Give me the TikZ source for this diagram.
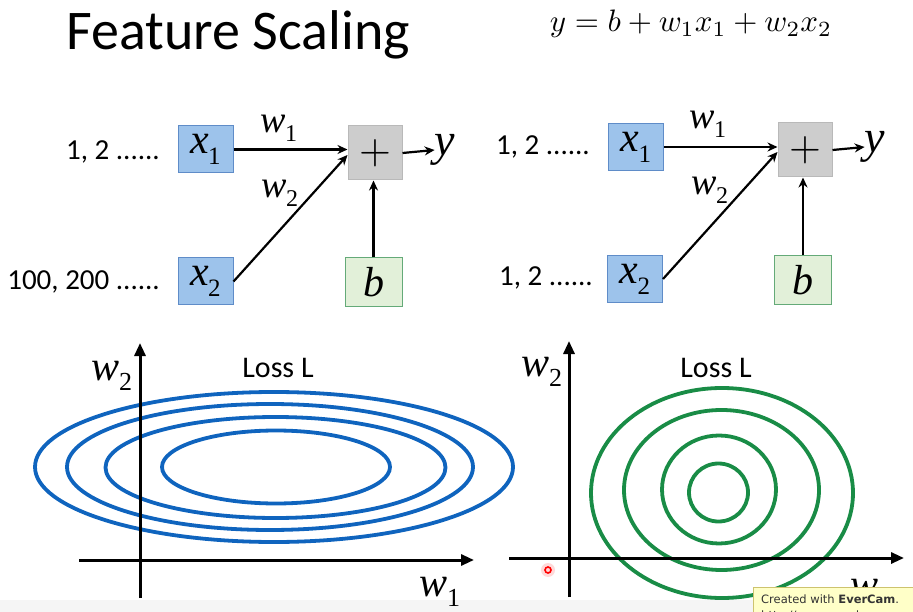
\documentclass[tikz,border=0pt]{standalone}
\usepackage{fontspec}
\usepackage{graphicx}
\setmainfont{Carlito}
\newfontfamily\tms{Liberation Serif}
\newfontfamily\dvs{DejaVu Sans}
\usetikzlibrary{arrows.meta}
\definecolor{boxblue}{RGB}{157,195,235}
\definecolor{boxblueline}{RGB}{95,140,200}
\definecolor{boxgray}{RGB}{205,205,205}
\definecolor{boxgrayline}{RGB}{185,185,185}
\definecolor{boxgreen}{RGB}{226,240,217}
\definecolor{boxgreenline}{RGB}{100,170,120}
\definecolor{ellblue}{RGB}{15,100,190}
\definecolor{ellgreen}{RGB}{25,140,70}
\definecolor{wmfill}{RGB}{255,255,200}
\definecolor{wmline}{RGB}{205,195,110}
\newcommand{\fs}[1]{\fontsize{#1}{#1}\selectfont}
% letter, subscript, letter size, sub size, drop
\newcommand{\lsub}[5]{{\tms\itshape\fs{#3}#1}\kern-1pt{\tms\fs{#4}\raisebox{-#5}{#2}}}
\newcommand{\bigplus}{\scalebox{4.1}{$+$}}
\tikzset{
  inbox/.style={draw=boxblueline, line width=1pt, fill=boxblue, minimum width=55pt, minimum height=47pt, inner sep=0pt},
  sumbox/.style={draw=boxgrayline, line width=1pt, fill=boxgray, minimum width=54pt, minimum height=54pt, inner sep=0pt},
  biasbox/.style={draw=boxgreenline, line width=1pt, fill=boxgreen, minimum width=57pt, minimum height=49pt, inner sep=0pt},
  wire/.style={line width=2.2pt, -{Stealth[length=10pt,width=9pt]}},
  axis/.style={line width=3pt, -{Triangle[length=13pt,width=11pt]}},
  numtxt/.style={font=\fs{29pt}, inner sep=0pt, anchor=east},
  plain/.style={inner sep=0pt},
  blueell/.style={draw=ellblue, line width=3.8pt},
  greenell/.style={draw=ellgreen, line width=3.8pt},
}
\begin{document}
\begin{tikzpicture}[x=1pt, y=-1pt]
\useasboundingbox (0,0) rectangle (913,612);
\fill[gray!8] (0,600) rectangle (913,612);

% title and equation
\node[plain, anchor=base west, font=\fs{56pt}] (title) at (66,50) {Feature Scaling};
\node[plain, anchor=center] (eq) at (691,24) {\scalebox{3.1}{$y=b+w_1x_1+w_2x_2$}};

% ---------- left network ----------
\node[inbox] (x1L) at (205.5,149.5) {\lsub{x}{1}{42pt}{25pt}{11pt}};
\node[inbox] (x2L) at (205.5,281.5) {\lsub{x}{2}{42pt}{25pt}{11pt}};
\node[sumbox] (sumL) at (375,153) {\bigplus};
\node[biasbox] (bL) at (373.5,282.5) {{\tms\itshape\fs{42pt}b}};
\node[plain] (yL) at (445,150) {{\tms\itshape\fs{46pt}y}};
\node[numtxt] (n1L) at (160,152) {1, 2 ......};
\node[numtxt] (n2L) at (160,282) {100, 200 ......};
\node[plain] (w1L) at (279,128) {\lsub{w}{1}{38pt}{24pt}{9pt}};
\node[plain] (w2L) at (280,193) {\lsub{w}{2}{38pt}{24pt}{9pt}};
\draw[wire] (x1L.east) -- (x1L.east -| sumL.west);
\draw[wire] (x2L.east) -- ([yshift=-2pt]sumL.west);
\draw[wire] (bL.north) -- (bL.north |- sumL.south);
\draw[wire] (sumL.east) -- (yL.west);

% ---------- right network ----------
\node[inbox] (x1R) at (636,147) {\lsub{x}{1}{42pt}{25pt}{11pt}};
\node[inbox] (x2R) at (635,279) {\lsub{x}{2}{42pt}{25pt}{11pt}};
\node[sumbox] (sumR) at (805,150) {\bigplus};
\node[biasbox] (bR) at (803,280) {{\tms\itshape\fs{42pt}b}};
\node[plain] (yR) at (875,147) {{\tms\itshape\fs{46pt}y}};
\node[numtxt] (n1R) at (590,147) {1, 2 ......};
\node[numtxt] (n2R) at (593,278) {1, 2 ......};
\node[plain] (w1R) at (708,124) {\lsub{w}{1}{38pt}{24pt}{9pt}};
\node[plain] (w2R) at (710,190) {\lsub{w}{2}{38pt}{24pt}{9pt}};
\draw[wire] (x1R.east) -- (x1R.east -| sumR.west);
\draw[wire] (x2R.east) -- ([yshift=-2pt]sumR.west);
\draw[wire] (bR.north) -- (bR.north |- sumR.south);
\draw[wire] (sumR.east) -- (yR.west);

% ---------- left loss plot ----------
\draw[blueell] (274,467) ellipse [x radius=239pt, y radius=75pt];
\draw[blueell] (270,467) ellipse [x radius=203pt, y radius=63pt];
\draw[blueell] (275.5,467.5) ellipse [x radius=170pt, y radius=50.5pt];
\draw[blueell] (276,467) ellipse [x radius=114pt, y radius=36.5pt];
\coordinate (oyL0) at (140,598);
\coordinate (oyL1) at (140,343);
\coordinate (oxL0) at (79,560);
\coordinate (oxL1) at (474,560);
\draw[axis] (oyL0) -- (oyL1);
\draw[axis] (oxL0) -- (oxL1);
\node[plain] (aw2L) at (112,376) {\lsub{w}{2}{42pt}{26pt}{10pt}};
\node[plain] (aw1L) at (440,592) {\lsub{w}{1}{42pt}{26pt}{10pt}};
\node[plain, font=\fs{30pt}] (lossL) at (278,368) {Loss L};

% ---------- right loss plot ----------
\draw[greenell] (722,493) ellipse [x radius=131pt, y radius=105pt];
\draw[greenell] (721.5,490) ellipse [x radius=97.5pt, y radius=80pt];
\draw[greenell] (719,489.5) ellipse [x radius=57pt, y radius=54pt];
\draw[greenell] (718.5,492.5) ellipse [x radius=29.5pt, y radius=29pt];
\coordinate (oyR0) at (569,597);
\coordinate (oyR1) at (569,341);
\coordinate (oxR0) at (509,558);
\coordinate (oxR1) at (904,558);
\draw[axis] (oyR0) -- (oyR1);
\draw[axis] (oxR0) -- (oxR1);
\node[plain] (aw2R) at (542,372) {\lsub{w}{2}{42pt}{26pt}{10pt}};
\node[plain] (aw1R) at (870,594) {\lsub{w}{1}{42pt}{26pt}{10pt}};
\node[plain, font=\fs{30pt}] (lossR) at (716,368) {Loss L};

% cursor
\fill[red!15] (548,570) circle[radius=7pt];
\draw[red, line width=1.6pt] (548,570) circle[radius=3pt];

% watermark
\begin{scope}
\clip (0,0) rectangle (913,612);
\draw[wmline, fill=wmfill, line width=0.8pt] (753,587) rectangle (915,630);
\node[plain, anchor=base west, font=\dvs\fs{11.5pt}, text=black!80] (wm1) at (761,603) {Created with \textbf{EverCam}.};
\node[plain, anchor=base west, font=\dvs\fs{11.5pt}, text=black!80] (wm2) at (761,619) {http://www.camdemy.com};
\end{scope}
\end{tikzpicture}
\end{document}
